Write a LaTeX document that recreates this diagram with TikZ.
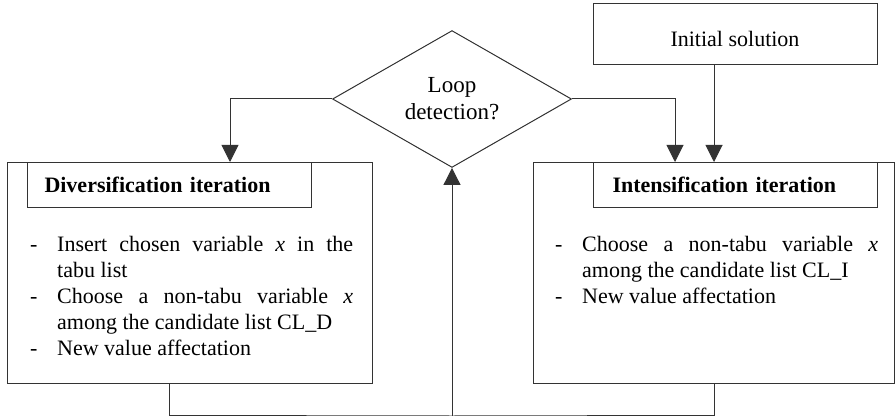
\documentclass[tikz,border=0pt]{standalone}
\usepackage{fontspec}
\setmainfont{Liberation Serif}
\usetikzlibrary{shapes.geometric,arrows.meta}
\newcommand\flowitem[1]{\par\hangindent=27pt\hangafter=1\noindent\makebox[27pt][l]{-}#1}
\begin{document}
\begin{tikzpicture}[x=1pt,y=-1pt,
  font=\fontsize{22}{26}\selectfont,
  line/.style={draw=black!80, line width=1pt},
  box/.style={line, rectangle, inner sep=0pt},
  arr/.style={line, -{Triangle[length=17pt,width=17pt]}},
  titlebox/.style={box, anchor=north west, minimum height=45pt, align=left, font=\fontsize{22}{26}\selectfont\bfseries},
  listtext/.style={anchor=north west, inner sep=0pt, text width=323pt, align=justify}]
\useasboundingbox (0,0) rectangle (895,419);
% big boxes
\node[box, anchor=north west, minimum width=365pt, minimum height=221pt] (div) at (7,162) {};
\node[box, anchor=north west, minimum width=361pt, minimum height=221pt] (int) at (533,162) {};
% title boxes
\node[titlebox, text width=250pt, inner xsep=17pt] (divtitle) at (27,162) {Diversification iteration};
\node[titlebox, text width=246pt, inner xsep=19pt] (inttitle) at (593,162) {Intensification iteration};
% initial solution
\node[box, minimum width=284pt, minimum height=61pt] (init) at (735,34.5) {\raisebox{-12pt}[0pt][0pt]{Initial solution}};
% diamond
\node[line, diamond, minimum width=239pt, minimum height=120pt, inner sep=0pt, align=center, font=\fontsize{23}{27}\selectfont] (loop) at (452,99) {Loop\\detection?};
% lists
\node[listtext] (divlist) at (30,225) {\tolerance=10000\hyphenpenalty=10000
  \flowitem{Insert chosen variable \textit{x} in the\linebreak tabu list}
  \flowitem{Choose a non-tabu variable \textit{x} among the candidate list CL\_D}
  \flowitem{New value affectation}\par};
\node[listtext] (intlist) at (555,225) {\tolerance=10000\hyphenpenalty=10000
  \flowitem{Choose a non-tabu variable \textit{x} among the candidate list CL\_I}
  \flowitem{New value affectation}\par};
% connectors
\draw[arr] (loop.west) -| ([xshift=223pt]div.north west);
\draw[arr] (loop.east) -| ([xshift=142pt]int.north west);
\draw[arr] ([xshift=-21pt]init.south) -- ([xshift=-21pt]init.south |- int.north);
\coordinate (join) at (452,416);
\draw[line] ([xshift=162pt]div.south west) |- (join) -| ([xshift=181pt]int.south west);
\draw[arr] (join) -- (loop.south);
\end{tikzpicture}
\end{document}
